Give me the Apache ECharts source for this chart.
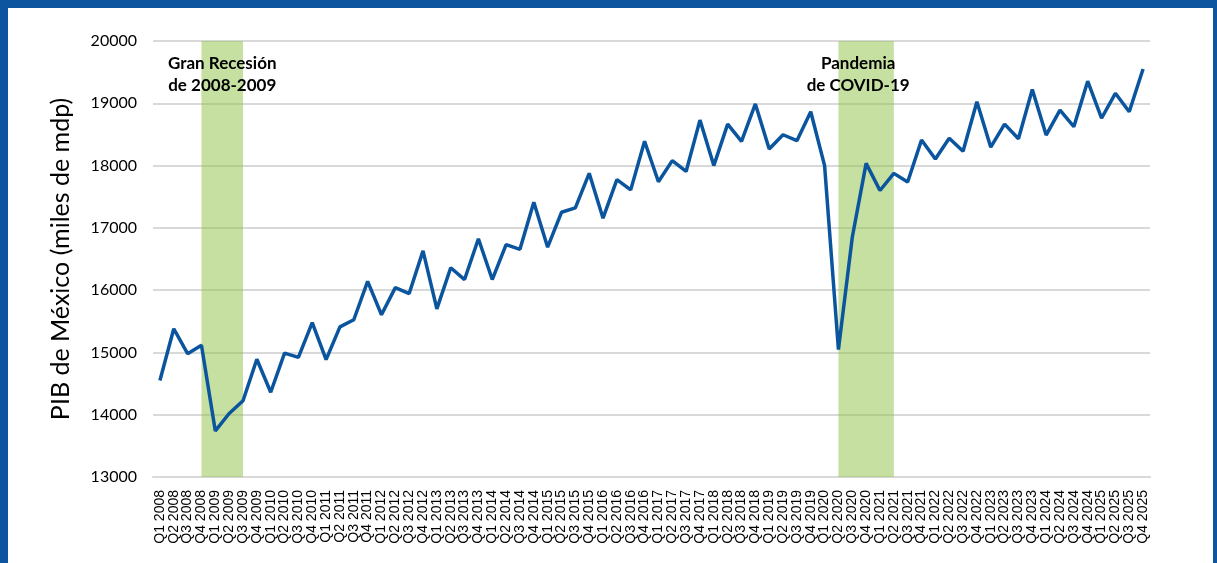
<!DOCTYPE html>
<html>
<head>
<meta charset="utf-8">
<script src="https://cdn.jsdelivr.net/npm/echarts@6/dist/echarts.min.js"></script>
<style>
  html, body {
    margin: 0;
    padding: 0;
    width: 1217px;
    height: 563px;
    background: #0d559f;
    overflow: hidden;
  }
  #chart {
    position: absolute;
    left: 8px;
    top: 8px;
    width: 1205px;
    height: 555px;
    background: #fff;
  }
</style>
</head>
<body>
<div id="chart"></div>
<script>
// trimestres Q1 2008 .. Q4 2025
var years = [2008, 2009, 2010, 2011, 2012, 2013, 2014, 2015, 2016,
  2017, 2018, 2019, 2020, 2021, 2022, 2023, 2024, 2025];
var quarters = ["Q1", "Q2", "Q3", "Q4"];
var categories = [];
years.forEach(function (y) {
  quarters.forEach(function (q) {
    categories.push(q + " " + y);
  });
});

// PIB de México, miles de millones de pesos
var pib = [
  14550, 15380, 14980, 15115,
  13740, 14020, 14225, 14890,
  14360, 14990, 14920, 15480,
  14885, 15410, 15525, 16140,
  15605, 16040, 15945, 16630,
  15700, 16360, 16170, 16825,
  16170, 16730, 16655, 17410,
  16690, 17250, 17320, 17875,
  17155, 17775, 17610, 18390,
  17740, 18080, 17905, 18730,
  18000, 18665, 18390, 18990,
  18265, 18495, 18400, 18865,
  18000, 15045, 16850, 18035,
  17600, 17875, 17735, 18410,
  18105, 18440, 18230, 19025,
  18295, 18665, 18430, 19220,
  18490, 18890, 18625, 19355,
  18760, 19160, 18865, 19550
];

// periodos sombreados
var bands = [
  { name: "Gran Recesión\nde 2008-2009", from: "Q4 2008", to: "Q3 2009" },
  { name: "Pandemia\nde COVID-19", from: "Q2 2020", to: "Q2 2021" }
];

var chart = echarts.init(document.getElementById("chart"));

chart.setOption({
  animation: false,
  grid: {
    left: 145,
    right: 63,
    top: 33,
    bottom: 86
  },
  xAxis: {
    type: "category",
    data: categories,
    boundaryGap: true,
    axisLine: {
      show: true,
      lineStyle: { color: "#d9d9d9", width: 2 }
    },
    axisTick: { show: false },
    axisLabel: {
      interval: 0,
      rotate: 90,
      margin: 13,
      color: "#000",
      fontFamily: "Liberation Sans, Arial, sans-serif",
      fontSize: 14
    }
  },
  yAxis: {
    type: "value",
    min: 13000,
    max: 20000,
    interval: 1000,
    name: "PIB de México (miles de mdp)",
    nameLocation: "middle",
    nameGap: 80,
    nameTextStyle: {
      color: "#000",
      fontFamily: "Lato, sans-serif",
      fontSize: 25
    },
    axisLine: { show: false },
    axisTick: { show: false },
    axisLabel: {
      margin: 16,
      color: "#000",
      fontFamily: "Lato, sans-serif",
      fontSize: 16,
      formatter: function (v) { return String(v); }
    },
    splitLine: {
      lineStyle: { color: "#d9d9d9", width: 2 }
    }
  },
  series: [
    {
      name: "PIB",
      type: "line",
      data: pib,
      symbol: "none",
      lineStyle: { color: "#0b559f", width: 3.5 },
      z: 3,
      markArea: {
        silent: true,
        itemStyle: { color: "rgba(139,193,65,0.5)" },
        label: {
          show: true,
          position: "insideTop",
          distance: 12,
          color: "#000",
          fontFamily: "Lato, sans-serif",
          fontWeight: "bold",
          fontSize: 17,
          lineHeight: 22,
          align: "center"
        },
        data: bands.map(function (b, i) {
          return [
            {
              name: b.name,
              xAxis: b.from,
              label: i === 1 ? { offset: [-8, 0] } : {}
            },
            { xAxis: b.to }
          ];
        })
      }
    }
  ]
});
</script>
</body>
</html>
